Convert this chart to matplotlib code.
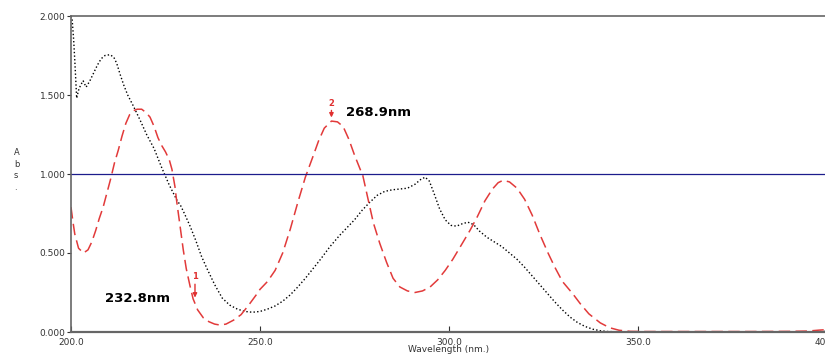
import numpy as np
import matplotlib.pyplot as plt

# spectrum 1 (black dotted)
wl_1 = [200.0, 200.3, 200.7, 201.0, 201.5, 202.0, 202.5, 203.2, 204.0, 205.0,
        206.0, 207.0, 208.0, 209.0, 210.3, 211.3, 212.1, 213.0, 214.0, 215.0,
        216.5, 218.3, 220.0, 222.0, 224.0, 226.0, 228.0, 229.0, 230.0, 231.5,
        233.0, 234.5, 236.0, 238.0, 240.0, 242.0, 244.0, 246.0, 248.0, 250.0,
        252.0, 254.0, 256.0, 258.0, 260.0, 262.0, 264.0, 266.0, 268.5, 271.0,
        273.0, 275.0, 277.0, 279.0, 281.0, 283.0, 285.0, 287.0, 289.0, 291.0,
        292.5, 293.7, 294.8, 296.0, 297.5, 299.0, 300.5, 302.0, 303.5, 305.0,
        306.5, 308.0, 310.0, 312.0, 314.0, 316.0, 318.0, 320.0, 322.0, 324.0,
        326.0, 328.0, 330.0, 332.0, 334.0, 336.0, 338.0, 340.0, 342.0, 345.0,
        350.0, 360.0, 370.0, 380.0, 390.0, 396.0, 400.0]
abs_1 = [2.00, 1.98, 1.85, 1.72, 1.48, 1.53, 1.56, 1.59, 1.55, 1.59,
         1.64, 1.69, 1.73, 1.75, 1.755, 1.74, 1.70, 1.63, 1.56, 1.50,
         1.43, 1.34, 1.25, 1.16, 1.04, 0.93, 0.835, 0.80, 0.75, 0.67,
         0.58, 0.48, 0.40, 0.30, 0.215, 0.17, 0.145, 0.13, 0.125, 0.13,
         0.145, 0.165, 0.195, 0.235, 0.285, 0.34, 0.40, 0.46, 0.54, 0.61,
         0.66, 0.71, 0.77, 0.82, 0.865, 0.89, 0.90, 0.905, 0.91, 0.935,
         0.965, 0.98, 0.955, 0.88, 0.78, 0.71, 0.675, 0.67, 0.685, 0.695,
         0.68, 0.64, 0.60, 0.57, 0.54, 0.50, 0.46, 0.41, 0.355, 0.30,
         0.245, 0.19, 0.14, 0.095, 0.06, 0.035, 0.018, 0.008, 0.003, 0.001,
         0.0, 0.0, 0.0, 0.0, 0.0, 0.002, 0.004]

# spectrum 2 (red dashed)
wl_2 = [200.0, 200.5, 201.0, 202.0, 203.3, 204.5, 205.5, 206.5, 207.5, 208.5,
        209.5, 210.5, 211.5, 212.5, 213.5, 214.5, 215.5, 216.5, 217.5, 218.7,
        219.8, 220.9, 222.0, 223.0, 224.0, 225.0, 226.0, 226.7, 227.5, 228.0,
        228.8, 229.7, 230.5, 231.5, 232.3, 233.5, 235.0, 236.5, 238.0, 239.4,
        241.0, 243.0, 245.0, 247.0, 249.0, 250.0, 252.0, 254.0, 256.0, 258.0,
        260.0, 262.0, 264.0, 265.5, 267.0, 268.9, 270.5, 272.0, 273.5, 275.0,
        276.5, 277.2, 278.5, 280.0, 281.7, 283.5, 285.2, 287.0, 289.0, 291.0,
        293.0, 295.0, 297.0, 299.0, 301.0, 303.0, 305.6, 307.5, 309.5, 311.5,
        313.0, 314.3, 316.0, 318.0, 320.0, 322.0, 324.0, 326.2, 328.0, 330.0,
        332.8, 334.7, 337.0, 340.0, 342.5, 345.0, 348.0, 352.0, 360.0, 370.0,
        380.0, 390.0, 395.0, 398.0, 400.0]
abs_2 = [0.79, 0.70, 0.62, 0.53, 0.50, 0.52, 0.57, 0.64, 0.72, 0.79,
         0.88, 0.97, 1.07, 1.15, 1.24, 1.32, 1.375, 1.40, 1.41, 1.41,
         1.39, 1.36, 1.30, 1.23, 1.18, 1.14, 1.09, 1.03, 0.92, 0.82,
         0.68, 0.52, 0.40, 0.29, 0.21, 0.14, 0.09, 0.065, 0.05, 0.044,
         0.05, 0.075, 0.11, 0.17, 0.235, 0.27, 0.32, 0.39, 0.50, 0.65,
         0.82, 0.98, 1.11, 1.21, 1.29, 1.335, 1.33, 1.30, 1.22, 1.12,
         1.03, 0.99, 0.85, 0.69, 0.56, 0.44, 0.34, 0.285, 0.26, 0.25,
         0.26, 0.285, 0.33, 0.39, 0.46, 0.54, 0.645, 0.73, 0.83, 0.905,
         0.945, 0.96, 0.95, 0.91, 0.84, 0.74, 0.62, 0.50, 0.41, 0.32,
         0.24, 0.18, 0.115, 0.058, 0.027, 0.011, 0.004, 0.003, 0.003, 0.003,
         0.003, 0.004, 0.006, 0.012, 0.015]

peak_labels = ['232.8nm', '268.9nm']
x_ticks = [200, 250, 300, 350, 400]
y_ticks = [0, 0.5, 1.0, 1.5, 2.0]

fig = plt.figure(figsize=(8.25, 3.56), dpi=100)
ax = fig.add_axes([71 / 825, 24 / 356, 756 / 825, 316 / 356])

ax.plot(wl_1, abs_1, color='black', lw=1.0, linestyle=(0, (1, 1.6)))
ax.plot(wl_2, abs_2, color='#e23a3a', lw=1.1, linestyle=(0, (7.5, 3.5)))
ax.axhline(1.0, color='#1c1c8c', lw=0.9)

ax.set_xlim(200, 400)
ax.set_ylim(0, 2.0)
ax.set_xticks(x_ticks)
ax.set_xticklabels([f'{t:.1f}' for t in x_ticks])
ax.set_yticks(y_ticks)
ax.set_yticklabels([f'{t:.3f}' for t in y_ticks])
ax.tick_params(axis='x', direction='in', length=4, labelsize=6.5, pad=4, colors='#333333')
ax.tick_params(axis='y', direction='out', length=3, labelsize=6.5, pad=1, colors='#333333')

for side in ['top', 'bottom', 'left', 'right']:
    ax.spines[side].set_color('#666666')
ax.spines['left'].set_linewidth(1.2)
ax.spines['bottom'].set_linewidth(1.6)
ax.spines['top'].set_linewidth(1.2)

ax.set_xlabel('Wavelength (nm.)', fontsize=6.5, color='#333333', labelpad=-1)
fig.text(14 / 825, 1 - 170 / 356, 'A\nb\ns\n.', fontsize=6, color='#333333',
         ha='left', va='center', linespacing=1.4)

# peak markers
ax.annotate('', xy=(232.8, 0.20), xytext=(232.8, 0.32),
            arrowprops=dict(arrowstyle='-|>', color='#e03030', lw=1.0, mutation_scale=6))
ax.text(232.8, 0.325, '1', color='#e03030', fontsize=6, ha='center', va='bottom', fontweight='bold')
ax.text(209, 0.215, peak_labels[0], fontsize=9.5, fontweight='bold', ha='left', va='center')

ax.annotate('', xy=(268.9, 1.34), xytext=(268.9, 1.42),
            arrowprops=dict(arrowstyle='-|>', color='#e03030', lw=1.0, mutation_scale=6))
ax.text(268.9, 1.42, '2', color='#e03030', fontsize=6, ha='center', va='bottom', fontweight='bold')
ax.text(272.7, 1.39, peak_labels[1], fontsize=9.5, fontweight='bold', ha='left', va='center')

plt.savefig('out.png', dpi=100)
